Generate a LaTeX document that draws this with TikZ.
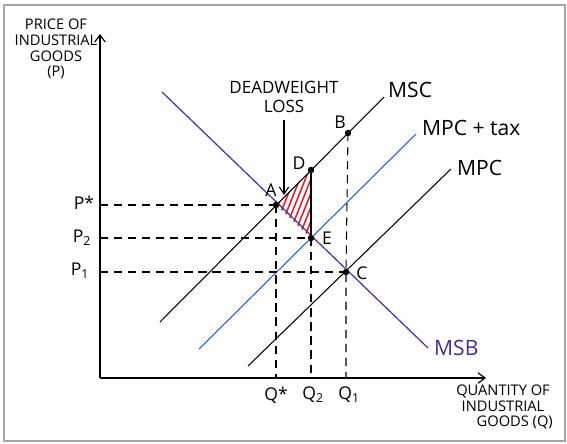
\documentclass[tikz,border=0pt]{standalone}
\usepackage{fontspec}
\setmainfont{Open Sans}
\usetikzlibrary{arrows.meta,patterns}
\definecolor{msbc}{RGB}{75,40,150}
\definecolor{taxc}{RGB}{40,95,180}
\definecolor{hatch}{RGB}{220,30,40}
\begin{document}
\begin{tikzpicture}[x=0.03cm,y=-0.03cm,
  curve/.style={line width=0.9pt,black},
  guide/.style={line width=0.9pt,dash pattern=on 7pt off 5pt},
  axis/.style={line width=1pt,-{Straight Barb[length=6pt,width=9pt]}},
  dot/.style={circle,fill=black,inner sep=0pt,minimum size=5.5pt},
  ptlabel/.style={font=\fontsize{15}{15}\selectfont},
  small/.style={font=\fontsize{12.5}{13.5}\selectfont,align=center},
  curvelabel/.style={font=\fontsize{18}{18}\selectfont,anchor=west}]
\useasboundingbox (0,0) rectangle (567,443);
\draw[gray!70,line width=1.2pt] (4,5) rectangle (565,441);
% axes
\coordinate (O) at (100,378);
\coordinate (Ytop) at (100,34);
\coordinate (Xend) at (486,378);
\draw[axis] (O) -- (Ytop);
\draw[axis] (O) -- (Xend);
% points
\coordinate (A) at (276,205);
\coordinate (D) at (311,170);
\coordinate (B) at (348,133);
\coordinate (E) at (311,238);
\coordinate (C) at (346,272);
% hatched triangle
\begin{scope}
\clip (A) -- (D) -- (E) -- cycle;
\foreach \i in {0,...,18} {
  \draw[hatch,line width=1.3pt] (245+\i*5.6,260) -- ++(40,-100);
}
\end{scope}
% curves
\coordinate (msbS) at (162,92);
\coordinate (msbE) at (428,348);
\draw[line width=1pt,msbc] (msbS) -- (msbE);
\coordinate (mscS) at (160,322);
\coordinate (mscE) at (384,97);
\draw[curve] (mscS) -- (mscE);
\coordinate (taxS) at (199,349);
\coordinate (taxE) at (416,134);
\draw[line width=0.9pt,taxc] (taxS) -- (taxE);
\coordinate (mpcS) at (248,366);
\coordinate (mpcE) at (451,169);
\draw[curve] (mpcS) -- (mpcE);
% D-E solid
\draw[curve] (D) -- (E);
% guides
\coordinate (yA) at (100,205);
\coordinate (yE) at (100,238);
\coordinate (yC) at (100,272);
\coordinate (xA) at (276,378);
\coordinate (xE) at (311,378);
\coordinate (xC) at (346,378);
\draw[guide] (yA) -- (A);
\draw[guide] (yE) -- (E);
\draw[guide] (yC) -- (C);
\draw[guide] (A) -- (xA);
\draw[guide] (E) -- (xE);
\draw[guide] (B) -- (C) -- (xC);
% dots
\foreach \p in {A,D,B,E,C} \node[dot] at (\p) {};
% point labels
\node[ptlabel] (lA) at (271,190) {A};
\node[ptlabel] (lD) at (299,163) {D};
\node[ptlabel] (lB) at (340,122) {B};
\node[ptlabel] (lE) at (327,238) {E};
\node[ptlabel] (lC) at (362,273) {C};
% axis ticks labels
\node[ptlabel] (lPs) at (84,203) {P*};
\node[ptlabel] (lP2) at (82,238) {P\textsubscript{2}};
\node[ptlabel] (lP1) at (80,271) {P\textsubscript{1}};
\node[ptlabel] (lQs) at (276,395) {Q*};
\node[ptlabel] (lQ2) at (313,395) {Q\textsubscript{2}};
\node[ptlabel] (lQ1) at (349,395) {Q\textsubscript{1}};
% curve labels
\node[curvelabel] (lMSC) at (384,90) {MSC};
\node[curvelabel] (lTax) at (418,128) {MPC + tax};
\node[curvelabel] (lMPC) at (453,168) {MPC};
\node[curvelabel,text=msbc] (lMSB) at (430,348) {MSB};
% deadweight loss
\node[small,font=\fontsize{14.5}{15.5}\selectfont] (dwl) at (284,97) {DEADWEIGHT\\LOSS};
\coordinate (arrS) at (284,120);
\coordinate (arrE) at (284,195);
\draw[line width=0.9pt,-{Straight Barb[length=6pt,width=8pt]}] (arrS) -- (arrE);
% axis titles
\node[small] (ylab) at (56,49) {PRICE OF\\INDUSTRIAL\\GOODS\\(P)};
\node[small] (xlab) at (503,407) {QUANTITY OF\\INDUSTRIAL\\\hspace*{1.6em}GOODS (Q)};
\end{tikzpicture}
\end{document}
